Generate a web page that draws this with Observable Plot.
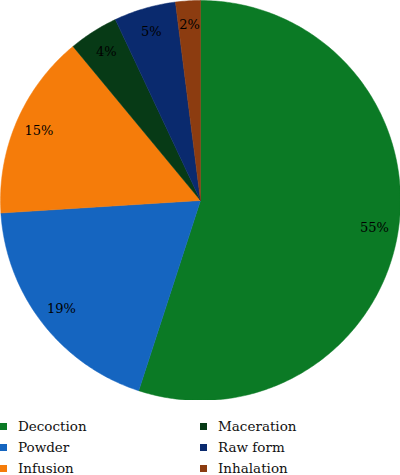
<!DOCTYPE html>
<html><head><meta charset="utf-8">
<script src="https://cdn.jsdelivr.net/npm/d3@7"></script>
<script src="https://cdn.jsdelivr.net/npm/@observablehq/plot@0.6"></script>
<style>
body{margin:0;background:#fff;overflow:hidden}
#legend{display:grid;grid-template-columns:200px 200px;grid-auto-flow:column;grid-template-rows:21px 21px 21px;margin-top:16px;font-size:13.5px;color:#111;font-family:"DejaVu Serif",serif}
.item{display:flex;align-items:center;line-height:21px}
.sw{width:7px;height:7px;margin-left:0px;margin-right:11px;flex:none}
</style></head><body>
<div id="chart"></div>
<div id="legend"></div>
<script>
const categories = ["Decoction","Powder","Infusion","Maceration","Raw form","Inhalation"];
const values = [55,19,15,4,5,2];
const labels = ["55%","19%","15%","4%","5%","2%"];
const colors = ["#0b7a25","#1565c0","#f57c0a","#073a16","#0a2a6e","#8c3c10"];

const arcs = d3.pie().sort(null).value(d => d)(values);
const verts = [];
const labelPts = [];
arcs.forEach((p, i) => {
  const cat = categories[i];
  verts.push({cat, x: 0, y: 0});
  const n = Math.max(2, Math.ceil((p.endAngle - p.startAngle) * 80));
  for (let k = 0; k <= n; k++) {
    const a = p.startAngle + (p.endAngle - p.startAngle) * k / n;
    verts.push({cat, x: Math.sin(a), y: Math.cos(a)});
  }
  verts.push({cat, x: 0, y: 0});
  const m = (p.startAngle + p.endAngle) / 2;
  labelPts.push({text: labels[i], x: 0.88 * Math.sin(m), y: 0.88 * Math.cos(m)});
});

const chart = Plot.plot({
  width: 400, height: 400,
  margin: 0,
  style: {fontFamily: "DejaVu Serif"},
  x: {domain: [-1, 1], axis: null},
  y: {domain: [-1, 1], axis: null},
  color: {domain: categories, range: colors},
  marks: [
    Plot.line(verts, {x: "x", y: "y", z: "cat", fill: "cat", stroke: "cat", strokeWidth: 0.5, curve: "linear"}),
    Plot.text(labelPts, {x: "x", y: "y", text: "text", fontSize: 13, fill: "#000"})
  ]
});
document.getElementById("chart").appendChild(chart);

const legend = document.getElementById("legend");
categories.forEach((c, i) => {
  const it = document.createElement("div");
  it.className = "item";
  const sw = document.createElement("span");
  sw.className = "sw";
  sw.style.background = colors[i];
  const t = document.createElement("span");
  t.textContent = c;
  it.appendChild(sw); it.appendChild(t);
  legend.appendChild(it);
});
</script>
</body></html>
